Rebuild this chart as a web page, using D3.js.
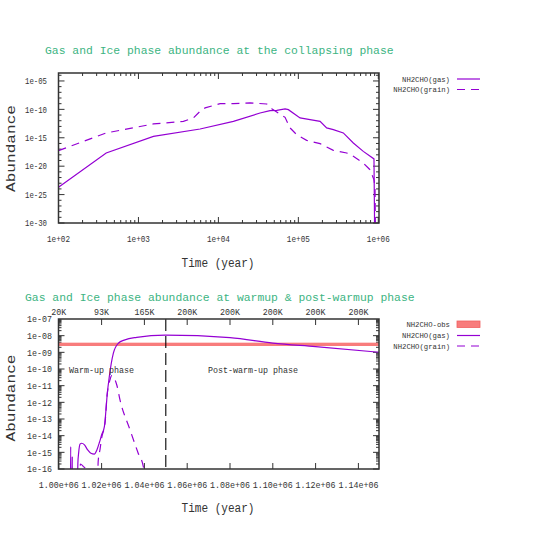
<!DOCTYPE html>
<html><head><meta charset="utf-8">
<script src="https://cdn.jsdelivr.net/npm/d3@7"></script>
<style>
body{margin:0;background:#fff;}
text{font-family:"Liberation Mono","DejaVu Sans Mono",monospace;}
</style></head>
<body><svg id="c" width="545" height="545"></svg>
<script>
// ---------- Data: collapsing phase ----------
const collapseTime  = [100, 395, 1540, 5900, 15400, 33200, 44300, 53700, 68200, 75000, 105000, 140000, 187000, 226000, 274000, 365000, 487000, 649000, 883000, 905000];
const collapseGas   = [1.9e-24, 2.1e-18, 1.8e-15, 3.5e-14, 7.8e-13, 2.3e-11, 5.9e-11, 6.6e-11, 1.2e-10, 8.9e-11, 3.1e-12, 1.6e-12, 7.9e-13, 5.4e-14, 2.7e-14, 7.1e-15, 1.2e-16, 4.0e-18, 1.9e-19, 1e-35];
const collapseGrainTime = [100, 395, 1540, 3650, 4870, 5900, 6820, 10500, 15400, 24900, 40300, 46500, 68200, 78700, 95500, 127000, 187000, 216000, 274000, 403000, 487000, 649000, 787000, 883000, 910000, 925000];
const collapseGrain = [5.4e-18, 7.1e-15, 2.7e-13, 7.8e-13, 3.1e-12, 4.5e-11, 1.8e-10, 1.0e-9, 1.0e-9, 1.4e-9, 8.9e-10, 1.3e-10, 4e-12, 5.4e-14, 3.5e-15, 3.5e-16, 9.1e-17, 3.2e-17, 6e-18, 2.1e-18, 5.4e-19, 3.6e-20, 2.4e-21, 4e-23, 1.6e-24, 1e-35];
const collapseYTicks = [1e-30, 1e-25, 1e-20, 1e-15, 1e-10, 1e-5];
const collapseYLabels = ["1e-30","1e-25","1e-20","1e-15","1e-10","1e-05"];
const collapseXTicks = [1e2, 1e3, 1e4, 1e5, 1e6];
const collapseXLabels = ["1e+02","1e+03","1e+04","1e+05","1e+06"];

// ---------- Data: warm-up & post-warm-up ----------
const warmGasTime = [1.0040e6, 1.0053e6, 1.00556e6, 1.0058e6, 1.0061e6, 1.0063e6, 1.0065e6, 1.0085e6, 1.0089e6, 1.0093e6, 1.0100e6, 1.0107e6, 1.0120e6, 1.0135e6, 1.0150e6, 1.0166e6, 1.0178e6, 1.0190e6, 1.0200e6, 1.0213e6, 1.0220e6, 1.0226e6, 1.0236e6, 1.0255e6, 1.0278e6, 1.0309e6, 1.0364e6, 1.0498e6, 1.0800e6, 1.1000e6, 1.1200e6, 1.1500e6];
const warmGas = [1e-20, 1e-20, 2.2e-15, 1e-20, 1e-20, 5.6e-16, 1e-20, 1e-20, 2e-16, 1.0e-15, 3.2e-15, 3.5e-15, 2.8e-15, 1.4e-15, 8.9e-16, 7.9e-16, 1.4e-15, 4.0e-15, 1.1e-14, 3.5e-14, 3.0e-13, 2.8e-12, 3.5e-11, 8.9e-10, 3.5e-9, 5.6e-9, 7.9e-9, 1.07e-8, 7.6e-9, 3.6e-9, 2.2e-9, 1.0e-9];
const warmGrainTime = [1.0095e6, 1.0101e6, 1.0115e6, 1.0129e6, 1.0140e6, 1.0178e6, 1.0184e6, 1.0193e6, 1.0200e6, 1.0216e6, 1.0225e6, 1.0239e6, 1.0247e6, 1.0271e6, 1.0286e6, 1.0333e6, 1.0371e6, 1.0395e6, 1.0420e6];
const warmGrain = [1e-20, 2.0e-16, 1.4e-16, 9e-17, 1e-20, 1e-20, 2.8e-16, 1.6e-15, 7e-15, 5.6e-14, 2.2e-12, 2.2e-11, 4.0e-11, 1.1e-11, 1.4e-12, 2.2e-14, 8.9e-16, 1.4e-16, 1e-20];
const obsLow = 2.4e-9, obsHigh = 3.8e-9;
const warmupEnd = 1.05e6;
const warmYTicks = [1e-16,1e-15,1e-14,1e-13,1e-12,1e-11,1e-10,1e-9,1e-8,1e-7];
const warmYLabels = ["1e-16","1e-15","1e-14","1e-13","1e-12","1e-11","1e-10","1e-09","1e-08","1e-07"];
const warmXTicks = [1.00e6,1.02e6,1.04e6,1.06e6,1.08e6,1.10e6,1.12e6,1.14e6];
const warmXLabels = ["1.00e+06","1.02e+06","1.04e+06","1.06e+06","1.08e+06","1.10e+06","1.12e+06","1.14e+06"];
const tempLabels = ["20K","93K","165K","200K","200K","200K","200K","200K"];

const PURPLE = "#9400d3", FRAME = "#333", TXT = "#333", GREEN = "#3cb482";
const svg = d3.select("#c");

function frame(g, x0, x1, y0, y1) {
  g.append("rect").attr("x", x0).attr("y", y0).attr("width", x1 - x0).attr("height", y1 - y0)
    .attr("fill", "none").attr("stroke", FRAME).attr("stroke-width", 1.5);
}
function clip(id, x0, x1, y0, y1) {
  svg.append("clipPath").attr("id", id).append("rect")
    .attr("x", x0).attr("y", y0).attr("width", x1 - x0).attr("height", y1 - y0);
}
// condensed tick text: taller glyphs squeezed to the measured width
function tickText(g, x, y, str, anchor, size, perChar) {
  return g.append("text").attr("x", x).attr("y", y).attr("dy", "0.35em")
    .attr("text-anchor", anchor).attr("font-size", size).attr("fill", TXT)
    .attr("textLength", str.length * perChar).attr("lengthAdjust", "spacingAndGlyphs").text(str);
}

// ================= Top chart =================
{
  const L = 58.5, R = 379, T = 73, B = 223;
  const x = d3.scaleLog().domain([1e2, 1e6]).range([L, 378.3]);
  const y = d3.scaleLog().domain([1e-30, Math.pow(10, -3.6)]).range([B, T]);
  const g = svg.append("g");
  clip("clipTop", L, R, T, B);

  const tk = g.append("g").attr("stroke", FRAME).attr("stroke-width", 1);
  for (let e = -30; e <= -4; e++) {
    const v = Math.pow(10, e), yy = y(v);
    const len = (e % 5 === 0) ? 6 : 3;
    tk.append("line").attr("x1", L).attr("x2", L + len).attr("y1", yy).attr("y2", yy);
    tk.append("line").attr("x1", R).attr("x2", R - len).attr("y1", yy).attr("y2", yy);
  }
  for (let e = 2; e <= 6; e++) {
    for (let m = 1; m <= 9; m++) {
      const v = m * Math.pow(10, e);
      if (v > 1e6) break;
      const xx = x(v), len = m === 1 ? 6 : 3;
      tk.append("line").attr("x1", xx).attr("x2", xx).attr("y1", B).attr("y2", B - len);
      tk.append("line").attr("x1", xx).attr("x2", xx).attr("y1", T).attr("y2", T + len);
    }
  }
  collapseYTicks.forEach((v, i) => tickText(g, 47, y(v), collapseYLabels[i], "end", 9, 4.4));
  collapseXTicks.forEach((v, i) => tickText(g, x(v), 239, collapseXLabels[i], "middle", 9, 4.6));

  const lineG = d3.line().x((d, i) => x(collapseTime[i])).y(d => y(d));
  const lineI = d3.line().x((d, i) => x(collapseGrainTime[i])).y(d => y(d));
  const pl = g.append("g").attr("clip-path", "url(#clipTop)");
  pl.append("path").attr("d", lineG(collapseGas)).attr("fill", "none").attr("stroke", PURPLE).attr("stroke-width", 1.2);
  pl.append("path").attr("d", lineI(collapseGrain)).attr("fill", "none").attr("stroke", PURPLE).attr("stroke-width", 1.2).attr("stroke-dasharray", "8,6");
  frame(g, L, R, T, B);

  g.append("text").attr("x", 45).attr("y", 50).attr("dy", "0.35em").attr("font-size", 11.4).attr("fill", GREEN)
    .text("Gas and Ice phase abundance at the collapsing phase");
  g.append("text").attr("x", 218).attr("y", 263).attr("dy", "0.35em").attr("text-anchor", "middle")
    .attr("font-size", 12).attr("fill", TXT).attr("textLength", 73).attr("lengthAdjust", "spacingAndGlyphs").text("Time (year)");
  g.append("text").attr("transform", "translate(10,148.5) rotate(-90)").attr("dy", "0.35em")
    .attr("text-anchor", "middle").attr("font-size", 13).attr("fill", TXT)
    .attr("textLength", 87).attr("lengthAdjust", "spacingAndGlyphs").text("Abundance");

  const lg = [["NH2CHO(gas)", null, 79], ["NH2CHO(grain)", "8,6", 89.5]];
  lg.forEach(([t, dash, yy]) => {
    g.append("text").attr("x", 450).attr("y", yy).attr("dy", "0.35em").attr("text-anchor", "end")
      .attr("font-size", 7.5).attr("fill", TXT).attr("textLength", t.length * 4.36).attr("lengthAdjust", "spacingAndGlyphs").text(t);
    g.append("line").attr("x1", 457).attr("x2", 480).attr("y1", yy).attr("y2", yy)
      .attr("stroke", PURPLE).attr("stroke-width", 1.2).attr("stroke-dasharray", dash);
  });
}

// ================= Bottom chart =================
{
  const L = 58.5, R = 379, T = 319, B = 469;
  const x = d3.scaleLinear().domain([1.00e6, 1.15e6]).range([58.8, 379.8]);
  const y = d3.scaleLog().domain([1e-16, 1e-7]).range([B, T]);
  const g = svg.append("g");
  clip("clipBot", L, R, T, B);

  const tk = g.append("g").attr("stroke", FRAME).attr("stroke-width", 1);
  for (let e = -16; e <= -8; e++) {
    for (let m = 1; m <= 9; m++) {
      const v = m * Math.pow(10, e), yy = y(v), len = m === 1 ? 6 : 3;
      tk.append("line").attr("x1", L).attr("x2", L + len).attr("y1", yy).attr("y2", yy);
      tk.append("line").attr("x1", R).attr("x2", R - len).attr("y1", yy).attr("y2", yy);
    }
  }
  warmXTicks.forEach((v, i) => {
    const xx = x(v);
    tk.append("line").attr("x1", xx).attr("x2", xx).attr("y1", B).attr("y2", B - 6);
    tk.append("line").attr("x1", xx).attr("x2", xx).attr("y1", T).attr("y2", T + 6);
    tickText(g, xx, 484.5, warmXLabels[i], "middle", 9.3, 5);
    tickText(g, xx, 312, tempLabels[i], "middle", 9.3, 5);
  });
  warmYTicks.forEach((v, i) => tickText(g, 52, y(v), warmYLabels[i], "end", 9.3, 5));

  const pl = g.append("g").attr("clip-path", "url(#clipBot)");
  pl.append("rect").attr("x", L).attr("width", R - L).attr("y", y(obsHigh)).attr("height", y(obsLow) - y(obsHigh))
    .attr("fill", "#f87c7c");
  const lineG = d3.line().x((d, i) => x(warmGasTime[i])).y(d => y(d)).curve(d3.curveMonotoneX);
  const lineI = d3.line().x((d, i) => x(warmGrainTime[i])).y(d => y(d)).curve(d3.curveMonotoneX);
  pl.append("path").attr("d", lineG(warmGas)).attr("fill", "none").attr("stroke", PURPLE).attr("stroke-width", 1.2);
  pl.append("path").attr("d", lineI(warmGrain)).attr("fill", "none").attr("stroke", PURPLE).attr("stroke-width", 1.2).attr("stroke-dasharray", "8,6");
  pl.append("line").attr("x1", x(warmupEnd)).attr("x2", x(warmupEnd)).attr("y1", T).attr("y2", B)
    .attr("stroke", "#000").attr("stroke-width", 1.1).attr("stroke-dasharray", "12,5");
  frame(g, L, R, T, B);

  tickText(g, 69, 370, "Warm-up phase", "start", 9.3, 5);
  tickText(g, 208, 370, "Post-warm-up phase", "start", 9.3, 5);

  g.append("text").attr("x", 25).attr("y", 297).attr("dy", "0.35em").attr("font-size", 11.4).attr("fill", GREEN)
    .text("Gas and Ice phase abundance at warmup & post-warmup phase");
  g.append("text").attr("x", 218).attr("y", 508).attr("dy", "0.35em").attr("text-anchor", "middle")
    .attr("font-size", 12).attr("fill", TXT).attr("textLength", 73).attr("lengthAdjust", "spacingAndGlyphs").text("Time (year)");
  g.append("text").attr("transform", "translate(10,398) rotate(-90)").attr("dy", "0.35em")
    .attr("text-anchor", "middle").attr("font-size", 13).attr("fill", TXT)
    .attr("textLength", 87).attr("lengthAdjust", "spacingAndGlyphs").text("Abundance");

  const lt = (t, yy) => g.append("text").attr("x", 450).attr("y", yy).attr("dy", "0.35em").attr("text-anchor", "end")
    .attr("font-size", 7.5).attr("fill", TXT).attr("textLength", t.length * 4.36).attr("lengthAdjust", "spacingAndGlyphs").text(t);
  lt("NH2CHO-obs", 324.5);
  g.append("rect").attr("x", 457).attr("y", 321).attr("width", 23).attr("height", 6.5)
    .attr("fill", "#f87c7c").attr("stroke", "#f06060").attr("stroke-width", 0.8);
  [["NH2CHO(gas)", null, 335.5], ["NH2CHO(grain)", "8,6", 346]].forEach(([t, dash, yy]) => {
    lt(t, yy);
    g.append("line").attr("x1", 457).attr("x2", 480).attr("y1", yy).attr("y2", yy)
      .attr("stroke", PURPLE).attr("stroke-width", 1.2).attr("stroke-dasharray", dash);
  });
}
</script></body></html>
